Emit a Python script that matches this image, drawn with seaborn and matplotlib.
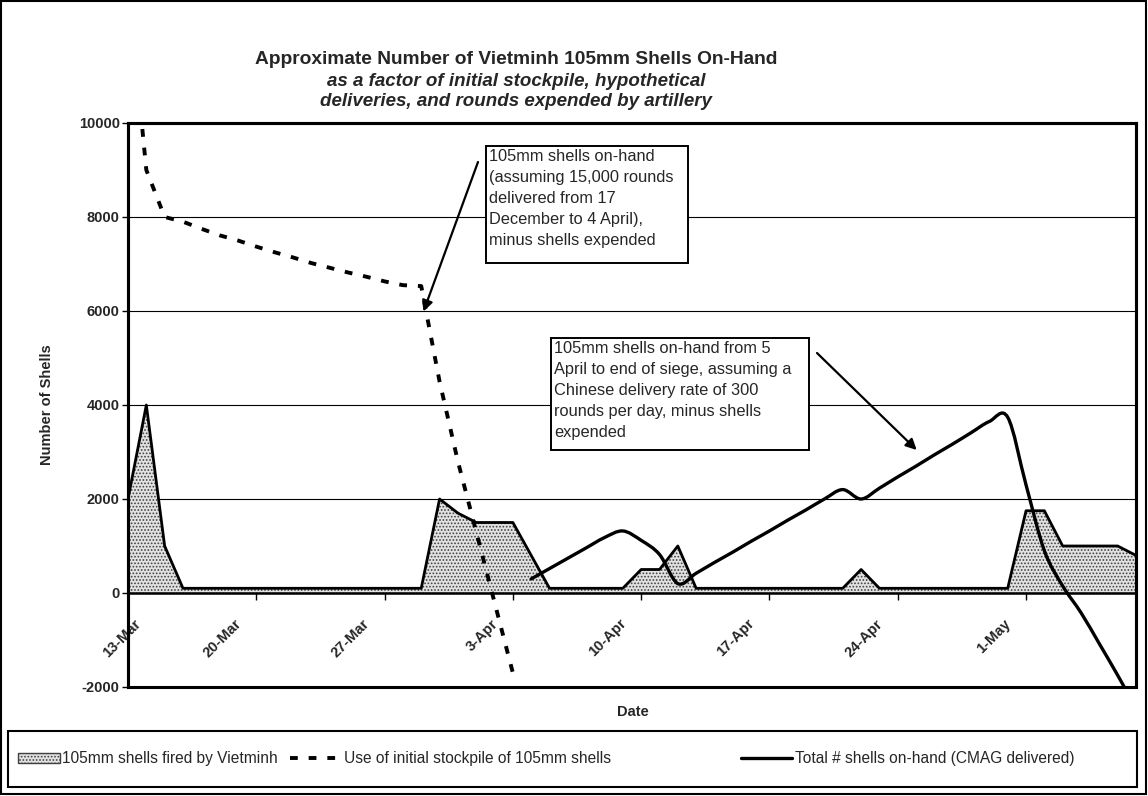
import numpy as np
import pandas as pd
import matplotlib
matplotlib.use('Agg')
import matplotlib.pyplot as plt
import matplotlib.dates as mdates
from matplotlib.path import Path
from matplotlib.patches import PathPatch, Rectangle, Patch
from matplotlib.lines import Line2D
from matplotlib.transforms import ScaledTranslation
import seaborn as sns

W, H = 1148, 796

# 105mm shells fired per day, 13 Mar - 7 May 1954
fired_dates = pd.date_range('1954-03-13', '1954-05-07', freq='D')
fired = [2000, 4000, 1000,
         100, 100, 100, 100, 100, 100, 100, 100, 100, 100, 100, 100, 100, 100,
         2000, 1700, 1500, 1500, 1500, 800,
         100, 100, 100, 100, 100,
         500, 500, 1000,
         100, 100, 100, 100, 100, 100, 100, 100, 100,
         500,
         100, 100, 100, 100, 100, 100, 100, 100,
         1750, 1750, 1000, 1000, 1000, 1000, 800]

# initial stockpile, 13 Mar - 3 Apr
stock_dates = pd.date_range('1954-03-13', '1954-04-03', freq='D')
stockpile = [13000, 9000, 8000, 7900, 7750, 7610, 7500, 7370, 7250, 7140, 7020,
             6920, 6820, 6730, 6630, 6550, 6530, 4500, 2800, 1300, -200, -1700]

# total on hand (CMAG delivered), 4 Apr - 7 May
onhand_dates = pd.date_range('1954-04-04', '1954-05-07', freq='D')
on_hand = [300, 520, 740, 960, 1180, 1320, 1120, 820, 200,
           420, 650, 870, 1100, 1320, 1550, 1770, 2000, 2200, 2000,
           2230, 2470, 2700, 2940, 3170, 3410, 3650, 3740,
           2300, 900, 150, -420, -1080, -1750, -2450]

week_ticks = pd.date_range('1954-03-13', '1954-05-07', freq='7D')

legend_labels = ['105mm shells fired by Vietminh',
                 'Use of initial stockpile of 105mm shells',
                 'Total # shells on-hand (CMAG delivered)']


def px(x, y):
    # figure pixel (top-left origin) -> figure fraction
    return x / W, 1 - y / H


def smooth_path(xs, ys):
    # excel style smoothed line as bezier segments
    pts = np.column_stack([xs, ys]).astype(float)
    n = len(pts)
    verts = [pts[0]]
    codes = [Path.MOVETO]
    for i in range(n - 1):
        p0 = pts[max(i - 1, 0)]
        p3 = pts[min(i + 2, n - 1)]
        c1 = pts[i] + (pts[i + 1] - p0) / 6
        c2 = pts[i + 1] - (p3 - pts[i]) / 6
        verts += [c1, c2, pts[i + 1]]
        codes += [Path.CURVE4] * 3
    return Path(verts, codes)


sns.set_style('white')
plt.rcParams['font.family'] = ['Liberation Sans', 'DejaVu Sans']
plt.rcParams['axes.unicode_minus'] = False
plt.rcParams['hatch.linewidth'] = 0.8

fig = plt.figure(figsize=(W / 100, H / 100), dpi=100)
x0, y1 = px(128, 123)
x1, y0 = px(1136, 687)
ax = fig.add_axes([x0, y0, x1 - x0, y1 - y0])

fill_kw = dict(facecolor='#e2e2e2', edgecolor='#404040', hatch='.....')
dot_kw = dict(color='black', linewidth=2.8, linestyle=(0, (2.0, 2.8)))

# fired area
ax.fill_between(fired_dates, 0, fired, linewidth=0, zorder=1, **fill_kw)
sns.lineplot(x=fired_dates, y=fired, ax=ax, color='black', linewidth=2, zorder=3)

# initial stockpile
sns.lineplot(x=stock_dates, y=stockpile, ax=ax, zorder=4, **dot_kw)

# on hand, smoothed
path = smooth_path(mdates.date2num(onhand_dates), on_hand)
ax.add_patch(PathPatch(path, fill=False, edgecolor='black', linewidth=2.4,
                       capstyle='round', joinstyle='round', zorder=5))

ax.set_xlim(fired_dates[0], fired_dates[-1])
ax.set_ylim(-2000, 10000)
ax.set_yticks(range(-2000, 10001, 2000))
ax.set_xticks(week_ticks)
ax.xaxis.set_major_formatter(mdates.DateFormatter('%-d-%b'))
ax.yaxis.grid(True, color='black', linewidth=0.8)
ax.xaxis.grid(False)
ax.set_xlabel('')
ax.set_ylabel('')

for s in ax.spines.values():
    s.set_color('black')
    s.set_linewidth(2.2)
ax.spines['bottom'].set_position(('data', 0))
ax.spines['bottom'].set_linewidth(1.8)
ax.add_patch(Rectangle((0, 0), 1, 1, transform=ax.transAxes, fill=False,
                       edgecolor='black', linewidth=2.2, clip_on=False, zorder=6))

ax.tick_params(axis='y', direction='out', length=4, width=1, color='black',
               labelsize=10.5, pad=2, left=True)
ax.tick_params(axis='x', direction='out', length=5, width=1, color='black',
               labelsize=10.5, pad=12, bottom=True)
for lab in ax.get_yticklabels():
    lab.set_fontweight('bold')
for i, lab in enumerate(ax.get_xticklabels()):
    dx = 6 if i == 0 else -22
    lab.set_fontweight('bold')
    lab.set_rotation(45)
    lab.set_ha('right')
    lab.set_va('top')
    lab.set_rotation_mode('anchor')
    lab.set_transform(lab.get_transform()
                      + ScaledTranslation(dx / 100, 0, fig.dpi_scale_trans))

# titles and axis labels
tx = 516 / W
fig.text(tx, px(0, 60)[1], 'Approximate Number of Vietminh 105mm Shells On-Hand',
         ha='center', va='center', fontsize=13.8, fontweight='bold')
fig.text(tx, px(0, 81)[1], 'as a factor of initial stockpile, hypothetical',
         ha='center', va='center', fontsize=13.5, fontweight='bold', fontstyle='italic')
fig.text(tx, px(0, 102)[1], 'deliveries, and rounds expended by artillery',
         ha='center', va='center', fontsize=13.5, fontweight='bold', fontstyle='italic')
fig.text(*px(47, 405), 'Number of Shells', rotation=90, ha='center', va='center',
         fontsize=10.5, fontweight='bold')
fig.text(*px(633, 712), 'Date', ha='center', va='center', fontsize=10.5,
         fontweight='bold')


# annotation boxes
def note_box(left, top, right, bottom, text):
    bx, by = px(left, bottom)
    fig.patches.append(Rectangle((bx, by), (right - left) / W, (bottom - top) / H,
                                 transform=fig.transFigure, facecolor='white',
                                 edgecolor='black', linewidth=1.4, zorder=7))
    fig.text(*px(left + 3, top + 3), text, ha='left', va='top', fontsize=11.8,
             linespacing=1.5, zorder=8)


note_box(486, 146, 688, 263,
         '105mm shells on-hand\n(assuming 15,000 rounds\ndelivered from 17\n'
         'December to 4 April),\nminus shells expended')
note_box(551, 338, 809, 450,
         '105mm shells on-hand from 5\nApril to end of siege, assuming a\n'
         'Chinese delivery rate of 300\nrounds per day, minus shells\nexpended')

arrow = dict(arrowstyle='-|>', color='black', lw=1.6, mutation_scale=16,
             shrinkA=0, shrinkB=0)
ax.annotate('', xy=px(423.5, 311.5), xycoords='figure fraction',
            xytext=px(478, 162), textcoords='figure fraction', arrowprops=arrow,
            zorder=9)
ax.annotate('', xy=px(916.7, 450), xycoords='figure fraction',
            xytext=px(817, 353), textcoords='figure fraction', arrowprops=arrow,
            zorder=9)

# legend, one entry per box position
handles = [Patch(linewidth=1, **fill_kw),
           Line2D([], [], **dot_kw),
           Line2D([], [], color='black', linewidth=2.4)]
starts = [18, 290, 741]
for h, lbl, sx in zip(handles, legend_labels, starts):
    fig.legend([h], [lbl], loc='center left', bbox_to_anchor=px(sx, 759),
               frameon=False, fontsize=11.2, handlelength=3.3 if sx > 20 else 2.7,
               handleheight=0.6, handletextpad=0.15, borderaxespad=0,
               borderpad=0)
bx, by = px(8, 787)
fig.patches.append(Rectangle((bx, by), 1129 / W, 56 / H, transform=fig.transFigure,
                             fill=False, edgecolor='black', linewidth=1.5))
# chart border
fig.patches.append(Rectangle(px(1, 794), 1145 / W, 793 / H, transform=fig.transFigure,
                             fill=False, edgecolor='black', linewidth=1.5))

fig.savefig('out.png', dpi=100)
